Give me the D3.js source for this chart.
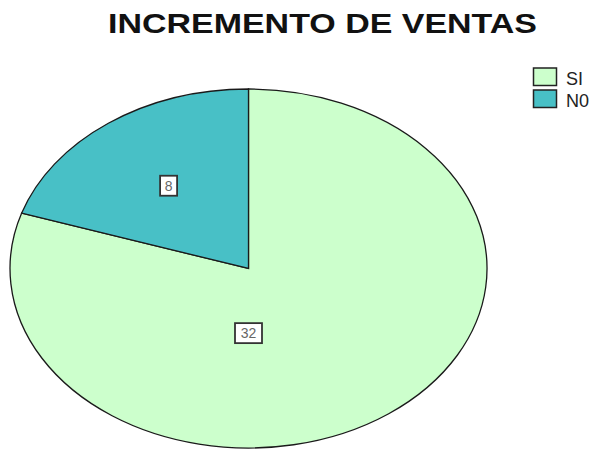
<!DOCTYPE html>
<html>
<head>
<meta charset="utf-8">
<script src="https://cdn.jsdelivr.net/npm/d3@7"></script>
<style>
  body { margin: 0; background: #fff; }
  svg { display: block; font-family: "Liberation Sans", Arial, sans-serif; }
</style>
</head>
<body>
<svg id="chart"></svg>
<script>
const width = 593;
const height = 450;

const title = 'INCREMENTO DE VENTAS';
const categories = ['SI', 'NO'];
const counts = [32, 8];
const legendLabels = ['SI', 'N0'];
const colors = ['#ccffcc', '#48c0c6'];

// pie is a stretched circle (wider than tall)
const cx = 248.5, cy = 268.5;
const rx = 238.5, ry = 179.5;

const svg = d3.select('#chart')
    .attr('width', width)
    .attr('height', height);

svg.append('text')
    .attr('x', 108)
    .attr('y', 33)
    .attr('font-size', 28)
    .attr('font-weight', 'bold')
    .attr('textLength', 429)
    .attr('lengthAdjust', 'spacingAndGlyphs')
    .attr('fill', '#111')
    .text(title);

const data = categories.map((c, i) => ({ cat: c, value: counts[i] }));
const colorScale = d3.scaleOrdinal().domain(categories).range(colors);

const pie = d3.pie().sort(null).value(d => d.value);
const arcs = pie(data);

const arc = d3.arc().innerRadius(0).outerRadius(1);

const pieG = svg.append('g')
    .attr('transform', `translate(${cx}, ${cy}) scale(${rx}, ${ry})`);

pieG.selectAll('path')
    .data(arcs)
    .enter().append('path')
    .attr('d', arc)
    .attr('fill', d => colorScale(d.data.cat))
    .attr('stroke', '#1a1a1a')
    .attr('stroke-width', 1.3)
    .attr('vector-effect', 'non-scaling-stroke');

// labels: small slices at their middle angle, slices over half the pie at the bottom
const labelR = 0.57;
const labelR2 = 0.36;
arcs.forEach(d => {
    const big = (d.endAngle - d.startAngle) > Math.PI;
    const a = big ? Math.PI : (d.startAngle + d.endAngle) / 2;
    const r = big ? labelR2 : labelR;
    const x = cx + Math.sin(a) * r * rx;
    const y = cy - Math.cos(a) * r * ry;
    const txt = String(d.data.value);
    const w = 7 + txt.length * 10;
    const g = svg.append('g').attr('transform', `translate(${x}, ${y})`);
    g.append('rect')
        .attr('x', -w / 2).attr('y', -10)
        .attr('width', w).attr('height', 20)
        .attr('fill', '#fff')
        .attr('stroke', '#333')
        .attr('stroke-width', 1.8);
    g.append('text')
        .attr('text-anchor', 'middle')
        .attr('y', 5)
        .attr('font-size', 14)
        .attr('fill', '#666')
        .text(txt);
});

// legend
const legend = svg.append('g').attr('transform', 'translate(533.5, 68)');
const item = legend.selectAll('g')
    .data(categories)
    .enter().append('g')
    .attr('transform', (d, i) => `translate(0, ${i * 22})`);

item.append('rect')
    .attr('width', 23).attr('height', 17.5)
    .attr('fill', d => colorScale(d))
    .attr('stroke', '#222')
    .attr('stroke-width', 1.5);

item.append('text')
    .attr('x', 32.5)
    .attr('y', 17)
    .attr('font-size', 18)
    .attr('fill', '#222')
    .text((d, i) => legendLabels[i]);
</script>
</body>
</html>
